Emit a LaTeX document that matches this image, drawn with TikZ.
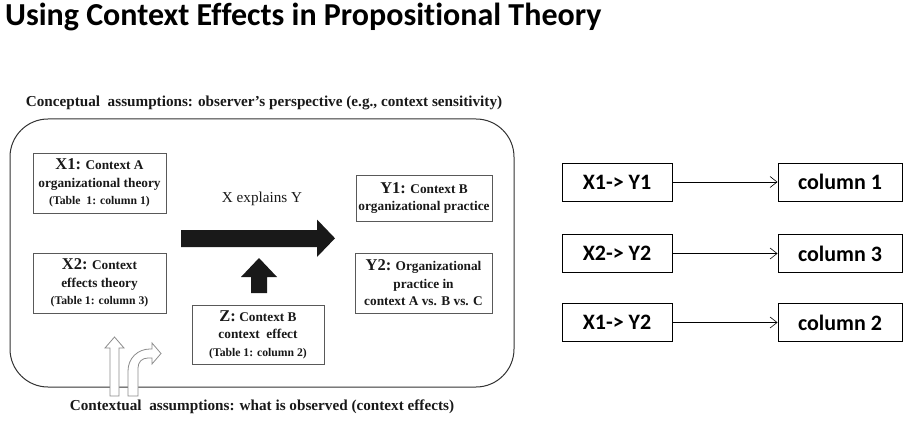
\documentclass[tikz,border=0pt]{standalone}
\usepackage{fontspec}
\setmainfont{Liberation Serif}
\newfontfamily\calibri[Ligatures=NoCommon]{Carlito}
\usetikzlibrary{arrows.meta}

% sizes used inside the framed boxes
\newcommand\keyfont{\fontsize{16.5}{17}\selectfont}
\newcommand\tabfont{\fontsize{11.7}{14}\selectfont}

\begin{document}
\begin{tikzpicture}[x=1pt,y=-1pt,
  box/.style={draw=black!65, line width=0.8pt, fill=white, inner sep=0pt,
    align=center, text=black!90,
    font=\bfseries\fontsize{13.3}{17.5}\selectfont},
  pair/.style={draw=black, line width=0.9pt, inner sep=0pt,
    minimum height=38pt, font=\calibri\bfseries\fontsize{22}{24}\selectfont},
  link/.style={-{Straight Barb[length=7pt,width=11pt]}, line width=0.6pt},
  hollow/.style={draw=black!45, fill=white, line width=0.8pt},
  solidarrow/.style={fill=black!90, draw=none},
  caption/.style={font=\bfseries\fontsize{15.2}{17}\selectfont, text=black!90, inner sep=0pt}
]
\useasboundingbox (0,0) rectangle (907,422);

% heading
\node[anchor=west, inner sep=0pt, font=\calibri\bfseries\fontsize{32}{34}\selectfont]
  (title) at (5,17) {Using Context Effects in Propositional Theory};

% frame of the model
\node[caption] (concept) at (264,103)
  {Conceptual\ \ assumptions: observer’s perspective (e.g., context sensitivity)};
\draw[black!80, line width=1pt, rounded corners=38pt] (10,119) rectangle (514,387);
\node[caption] (contextual) at (262,407)
  {Contextual\ \ assumptions: what is observed (context effects)};

% boxes
\node[box, minimum width=133pt, minimum height=60pt] (x1) at (99.5,183)
  {{\keyfont X1:} Context A\\organizational theory\\{\tabfont (Table\ \ 1: column 1)}};
\node[box, minimum width=133pt, minimum height=60pt] (x2) at (99.5,283)
  {{\keyfont X2:} Context\\effects theory\\{\tabfont (Table 1: column 3)}};
\node[box, minimum width=136pt, minimum height=46pt] (y1) at (424,198)
  {{\keyfont Y1:} Context B\\organizational practice};
\node[box, minimum width=137pt, minimum height=60pt] (y2) at (423.5,283)
  {{\keyfont Y2:} Organizational\\practice in\\context A vs. B vs. C};
\node[box, minimum width=132pt, minimum height=59pt] (z) at (258,334.5)
  {{\keyfont Z:} Context B\\context\ \ effect\\{\tabfont (Table 1: column 2)}};

% X explains Y
\node[font=\fontsize{15.2}{17}\selectfont, text=black!90, inner sep=0pt] (xy) at (262,199) {X explains Y};
\path[solidarrow] (181,230) -- (317,230) -- (317,219.5) -- (335,238.3)
  -- (317,257) -- (317,247) -- (181,247) -- cycle;
\path[solidarrow] (251,293) -- (251,277) -- (241,277) -- (259,258)
  -- (277,277) -- (267,277) -- (267,293) -- cycle;

% hollow arrows crossing the lower edge of the frame
\draw[hollow] (110,396) -- (110,348) -- (105,348) -- (114.5,337)
  -- (124,348) -- (119,348) -- (119,396) -- cycle;
\draw[hollow] (128,396) -- (128,371) .. controls (128,358) and (138,349) .. (150,349)
  -- (152,349) -- (152,343) -- (161,353.5) -- (152,364) -- (152,358) -- (148,358)
  .. controls (142,358) and (138,362) .. (138,368) -- (138,396) -- cycle;

% pairs and their table columns
\node[pair, minimum width=110pt] (p1) at (617,182) {X1-> Y1};
\node[pair, minimum width=110pt] (p2) at (617,253.5) {X2-> Y2};
\node[pair, minimum width=110pt] (p3) at (617,322.5) {X1-> Y2};
\node[pair, minimum width=124pt] (c1) at (840,182) {column 1};
\node[pair, minimum width=124pt] (c2) at (840,253.5) {column 3};
\node[pair, minimum width=124pt] (c3) at (840,322.5) {column 2};
\draw[link] (p1) -- (c1);
\draw[link] (p2) -- (c2);
\draw[link] (p3) -- (c3);
\end{tikzpicture}
\end{document}
